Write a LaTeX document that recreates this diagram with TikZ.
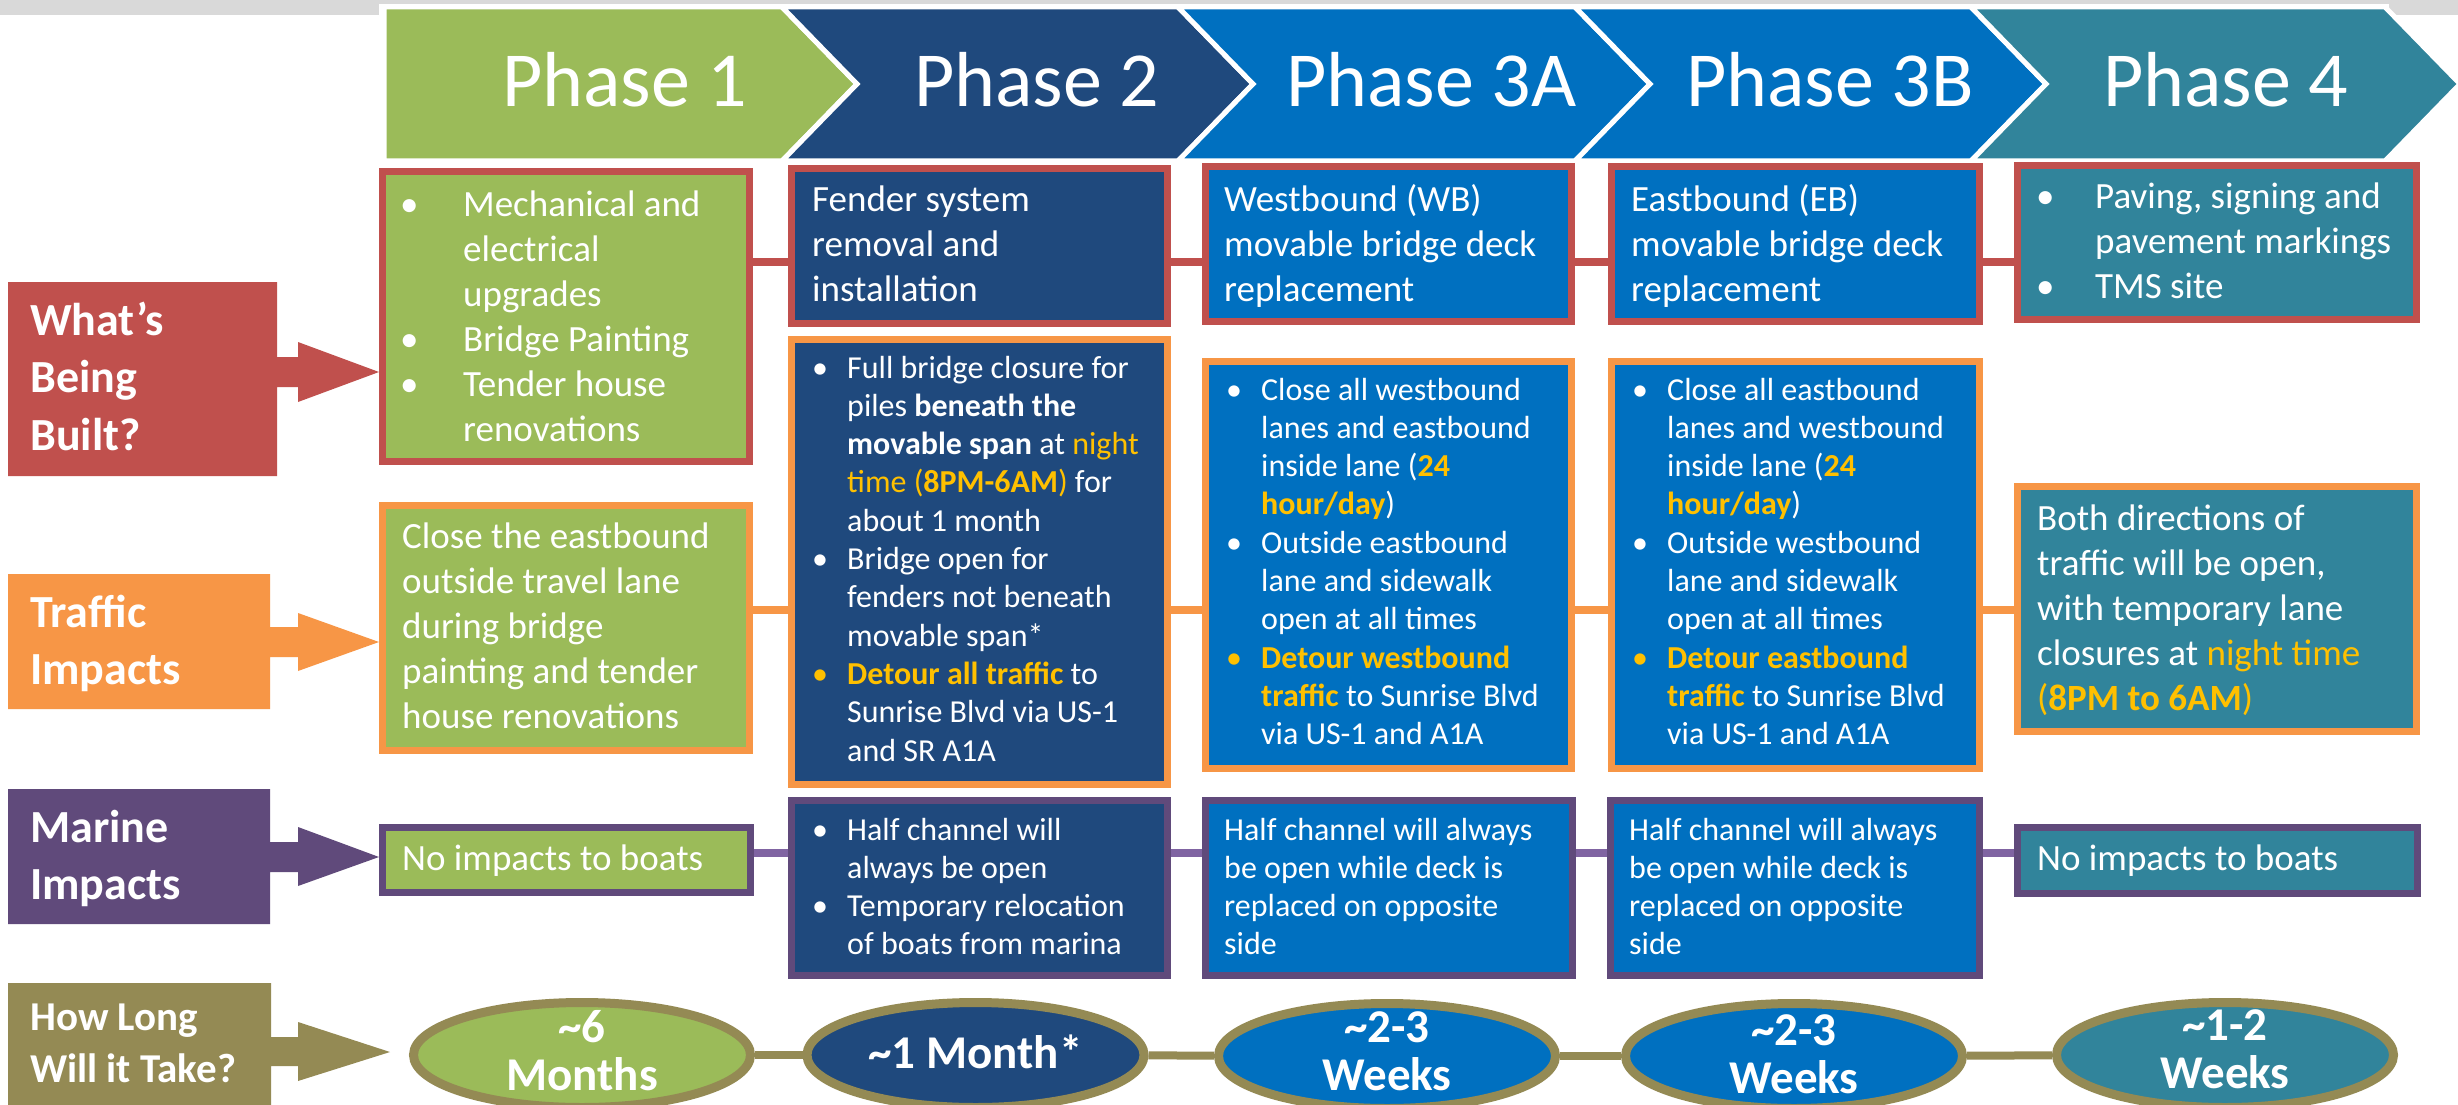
\documentclass[tikz,border=0pt]{standalone}
\usepackage{fontspec}
\setmainfont{Carlito}
\usetikzlibrary{shapes.geometric}
\definecolor{cGreen}{HTML}{9BBB59}
\definecolor{cNavy}{HTML}{1F497D}
\definecolor{cBlue}{HTML}{0070C0}
\definecolor{cTeal}{HTML}{31849B}
\definecolor{cRed}{HTML}{C0504D}
\definecolor{cOrange}{HTML}{F79646}
\definecolor{cPurple}{HTML}{604A7B}
\definecolor{cLPurple}{HTML}{8064A2}
\definecolor{cOlive}{HTML}{948A54}
\definecolor{cYel}{HTML}{FFC000}
\definecolor{cGray}{HTML}{D9D9D9}
\newlength\bw
\setlength\bw{35pt}
\newcommand\bu{\makebox[\bw][l]{•}}
\newcommand\ybu{\makebox[\bw][l]{\textcolor{cYel}{•}}}
\newcommand\ind{\hspace*{\bw}}
\newcommand\yl[1]{\textcolor{cYel}{#1}}
\newcommand\yb[1]{\textcolor{cYel}{\bfseries #1}}
\newcommand\lines[1]{\begin{tabular}[t]{@{}l@{}}#1\end{tabular}}
\newcommand\clines[1]{\begin{tabular}[t]{@{}c@{}}#1\end{tabular}}
\begin{document}
\begin{tikzpicture}[x=1pt,y=-1pt,
  bx/.style={draw=#1, line width=7pt, inner sep=0pt},
  elp/.style={ellipse, draw=cOlive, line width=9pt, inner sep=0pt, minimum width=337pt, minimum height=105pt},
  con/.style={draw=#1, line width=8pt},
  tx/.style={anchor=base west, inner sep=0pt, text=white, font=\fontsize{37}{45}\selectfont},
  txs/.style={anchor=base west, inner sep=0pt, text=white, font=\fontsize{32}{38.3}\selectfont},
  lbl/.style={anchor=base west, inner sep=0pt, text=white, font=\fontsize{46}{57.5}\selectfont\bfseries},
  ttl/.style={anchor=base west, inner sep=0pt, text=white, font=\fontsize{78}{90}\selectfont},
  etx/.style={anchor=base, inner sep=0pt, text=white, font=\fontsize{47}{48}\selectfont\bfseries},
  chev/.style={fill=#1, draw=white, line width=5pt, line join=miter}
]
\useasboundingbox (0,0) rectangle (2458,1105);
\clip (0,0) rectangle (2458,1105);
\fill[white] (0,0) rectangle (2458,1105);
\fill[cGray] (0,0) rectangle (2458,15);
\fill[white] (379,4) rectangle (2389,20);

% chevrons
\path[chev=cGreen] (384,7) -- (782,7) -- (857,84) -- (782,161) -- (384,161) -- cycle;
\path[chev=cNavy] (782,7) -- (1178,7) -- (1253,84) -- (1178,161) -- (782,161) -- (857,84) -- cycle;
\path[chev=cBlue] (1178,7) -- (1575,7) -- (1650,84) -- (1575,161) -- (1178,161) -- (1253,84) -- cycle;
\path[chev=cBlue] (1575,7) -- (1971,7) -- (2046,84) -- (1971,161) -- (1575,161) -- (1650,84) -- cycle;
\path[chev=cTeal] (1971,7) -- (2385,7) -- (2460,84) -- (2385,161) -- (1971,161) -- (2046,84) -- cycle;
\node[ttl] (p1) at (502,107) {Phase 1};
\node[ttl] (p2) at (914,107) {Phase 2};
\node[ttl] (p3) at (1286,107) {Phase 3A};
\node[ttl] (p4) at (1686,107) {Phase 3B};
\node[ttl] (p5) at (2103,107) {Phase 4};

% row labels (arrow callouts)
\fill[cRed] (8,282) -- (277,282) -- (277,357) -- (298,357) -- (298,342) -- (379,372) -- (298,402) -- (298,387) -- (277,387) -- (277,476) -- (8,476) -- cycle;
\fill[cOrange] (8,574) -- (270,574) -- (270,627) -- (298,627) -- (298,613) -- (379,642) -- (298,671) -- (298,657) -- (270,657) -- (270,709) -- (8,709) -- cycle;
\fill[cPurple] (8,789) -- (270,789) -- (270,842) -- (298,842) -- (298,827) -- (379,857) -- (298,886) -- (298,872) -- (270,872) -- (270,924) -- (8,924) -- cycle;
\fill[cOlive] (8,983) -- (271,983) -- (271,1037) -- (298,1037) -- (298,1022) -- (390,1052) -- (298,1081) -- (298,1066) -- (271,1066) -- (271,1110) -- (8,1110) -- cycle;
\node[lbl] (l1) at (30,335) {\lines{What’s\\Being\\Built?}};
\node[lbl] (l2) at (30,627) {\lines{Traffic\\Impacts}};
\node[lbl] (l3) at (30,842) {\lines{Marine\\Impacts}};
\node[lbl, font=\fontsize{41}{52}\selectfont\bfseries] (l4) at (30,1030) {\lines{How Long\\Will it Take?}};

% row 1 boxes
\node[bx=cRed, fill=cGreen, minimum width=367pt, minimum height=290pt] (b11) at (566,316.5) {};
\node[bx=cRed, fill=cNavy, minimum width=376pt, minimum height=155pt] (b12) at (979.5,246) {};
\node[bx=cRed, fill=cBlue, minimum width=366pt, minimum height=155pt] (b13) at (1388.5,244) {};
\node[bx=cRed, fill=cBlue, minimum width=368pt, minimum height=155pt] (b14) at (1795.5,244) {};
\node[bx=cRed, fill=cTeal, minimum width=399pt, minimum height=154pt] (b15) at (2217,242.5) {};
% row 2 boxes
\node[bx=cOrange, fill=cGreen, minimum width=367pt, minimum height=245pt] (b21) at (566,628) {};
\node[bx=cOrange, fill=cNavy, minimum width=376pt, minimum height=445pt] (b22) at (979.5,562) {};
\node[bx=cOrange, fill=cBlue, minimum width=366pt, minimum height=407pt] (b23) at (1388.5,565) {};
\node[bx=cOrange, fill=cBlue, minimum width=368pt, minimum height=407pt] (b24) at (1795.5,565) {};
\node[bx=cOrange, fill=cTeal, minimum width=399pt, minimum height=245pt] (b25) at (2217,609) {};
% row 3 boxes
\node[bx=cPurple, fill=cGreen, minimum width=368pt, minimum height=65pt] (b31) at (566.5,860) {};
\node[bx=cPurple, fill=cNavy, minimum width=376pt, minimum height=175pt] (b32) at (979.5,888) {};
\node[bx=cPurple, fill=cBlue, minimum width=367pt, minimum height=175pt] (b33) at (1389,888) {};
\node[bx=cPurple, fill=cBlue, minimum width=369pt, minimum height=175pt] (b34) at (1795,888) {};
\node[bx=cPurple, fill=cTeal, minimum width=400pt, minimum height=66pt] (b35) at (2217.5,860.5) {};
% row 4 ellipses
\node[elp, fill=cGreen] (e1) at (582,1055) {};
\node[elp, fill=cNavy] (e2) at (975.5,1055) {};
\node[elp, fill=cBlue] (e3) at (1387,1056) {};
\node[elp, fill=cBlue] (e4) at (1794,1056) {};
\node[elp, fill=cTeal] (e5) at (2225,1055) {};

% connectors
\coordinate (r1) at (0,262);
\coordinate (r2) at (0,610);
\coordinate (r3) at (0,853);
\path[con=cRed] (b11.east |- r1) -- (b12.west |- r1);
\path[con=cRed] (b12.east |- r1) -- (b13.west |- r1);
\path[con=cRed] (b13.east |- r1) -- (b14.west |- r1);
\path[con=cRed] (b14.east |- r1) -- (b15.west |- r1);
\path[con=cOrange] (b21.east |- r2) -- (b22.west |- r2);
\path[con=cOrange] (b22.east |- r2) -- (b23.west |- r2);
\path[con=cOrange] (b23.east |- r2) -- (b24.west |- r2);
\path[con=cOrange] (b24.east |- r2) -- (b25.west |- r2);
\path[con=cLPurple] (b31.east |- r3) -- (b32.west |- r3);
\path[con=cLPurple] (b32.east |- r3) -- (b33.west |- r3);
\path[con=cLPurple] (b33.east |- r3) -- (b34.west |- r3);
\path[con=cLPurple] (b34.east |- r3) -- (b35.west |- r3);
\path[con=cOlive] (e1) -- (e2);
\path[con=cOlive] (e2) -- (e3);
\path[con=cOlive] (e3) -- (e4);
\path[con=cOlive] (e4) -- (e5);

% row 1 texts
\node[tx] (t11) at (400,216) {\setlength\bw{63pt}\lines{\bu Mechanical and\\ \ind electrical\\ \ind upgrades\\ \bu Bridge Painting\\ \bu Tender house\\ \ind renovations}};
\node[tx] (t12) at (812,211) {\lines{Fender system\\removal and\\installation}};
\node[tx] (t13) at (1224,211) {\lines{Westbound (WB)\\movable bridge deck\\replacement}};
\node[tx] (t14) at (1631,211) {\lines{Eastbound (EB)\\movable bridge deck\\replacement}};
\node[tx] (t15) at (2036,208) {\setlength\bw{59pt}\lines{\bu Paving, signing and\\ \ind pavement markings\\ \bu TMS site}};

% row 2 texts
\node[tx] (t21) at (402,548) {\lines{Close the eastbound\\outside travel lane\\during bridge\\painting and tender\\house renovations}};
\node[txs] (t22) at (812,378) {\lines{\bu Full bridge closure for\\
 \ind piles \textbf{beneath the}\\
 \ind \textbf{movable span} at \yl{night}\\
 \ind \yl{time (\textbf{8PM-6AM})} for\\
 \ind about 1 month\\
 \bu Bridge open for\\
 \ind fenders not beneath\\
 \ind movable span*\\
 \ybu \yb{Detour all traffic} to\\
 \ind Sunrise Blvd via US-1\\
 \ind and SR A1A}};
\node[txs] (t23) at (1226,400) {\lines{\bu Close all westbound\\
 \ind lanes and eastbound\\
 \ind inside lane (\yb{24}\\
 \ind \yb{hour/day})\\
 \bu Outside eastbound\\
 \ind lane and sidewalk\\
 \ind open at all times\\
 \ybu \yb{Detour westbound}\\
 \ind \yb{traffic} to Sunrise Blvd\\
 \ind via US-1 and A1A}};
\node[txs] (t24) at (1632,400) {\lines{\bu Close all eastbound\\
 \ind lanes and westbound\\
 \ind inside lane (\yb{24}\\
 \ind \yb{hour/day})\\
 \bu Outside westbound\\
 \ind lane and sidewalk\\
 \ind open at all times\\
 \ybu \yb{Detour eastbound}\\
 \ind \yb{traffic} to Sunrise Blvd\\
 \ind via US-1 and A1A}};
\node[tx] (t25) at (2037,530) {\lines{Both directions of\\traffic will be open,\\with temporary lane\\closures at \yl{night time}\\\yl{(\textbf{8PM to 6AM})}}};

% row 3 texts
\node[tx] (t31) at (402,870) {No impacts to boats};
\node[txs] (t32) at (812,840) {\lines{\bu Half channel will\\ \ind always be open\\ \bu Temporary relocation\\ \ind of boats from marina}};
\node[txs] (t33) at (1224,840) {\lines{Half channel will always\\be open while deck is\\replaced on opposite\\side}};
\node[txs] (t34) at (1629,840) {\lines{Half channel will always\\be open while deck is\\replaced on opposite\\side}};
\node[tx] (t35) at (2037,870) {No impacts to boats};

% row 4 texts
\node[etx] (t41) at (582,1042) {\clines{\textasciitilde 6\\Months}};
\node[etx] (t42) at (975.5,1068) {\textasciitilde 1 Month*};
\node[etx] (t43) at (1387,1042) {\clines{\textasciitilde 2-3\\Weeks}};
\node[etx] (t44) at (1794,1045) {\clines{\textasciitilde 2-3\\Weeks}};
\node[etx] (t45) at (2225,1040) {\clines{\textasciitilde 1-2\\Weeks}};
\end{tikzpicture}
\end{document}
